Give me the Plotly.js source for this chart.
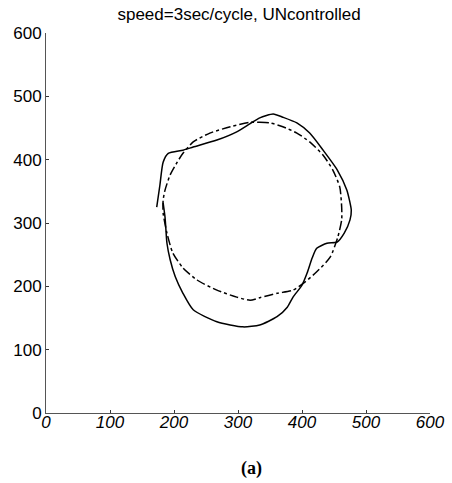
<!DOCTYPE html>
<html>
<head>
<meta charset="utf-8">
<script src="https://cdn.plot.ly/plotly-3.0.1.min.js"></script>
<style>html,body{margin:0;padding:0;background:#fff;}#chart{width:452px;height:483px;}</style>
</head>
<body>
<div id="chart"></div>
<script>
// Uncontrolled trajectory (solid)
const actualX = [173, 178, 183, 191, 214, 230, 267, 298, 319, 334, 355, 370, 392, 412, 433, 455, 470, 477, 475, 466, 455, 439, 423, 416, 408, 400, 386, 377, 361, 334, 308, 267, 230, 214, 202, 194, 189, 186, 183];
const actualY = [325, 360, 396, 410, 415, 420, 431, 444, 457, 466, 472, 467, 458, 442, 415, 384, 352, 320, 305, 284, 270, 268, 260, 245, 221, 202, 183, 167, 152, 139, 136, 144, 163, 189, 215, 242, 268, 309, 332];
// Reference path (dash-dot)
const refX = [319, 334, 350, 370, 392, 412, 433, 448, 459, 462, 462, 456, 444, 423, 405, 386, 361, 334, 319, 298, 267, 236, 214, 198, 189, 183, 183, 186, 194, 205, 214, 230, 256, 288, 319];
const refY = [459, 459, 458, 452, 442, 428, 407, 384, 357, 325, 305, 278, 246, 223, 207, 194, 189, 182, 178, 183, 194, 210, 229, 253, 284, 316, 336, 352, 376, 396, 410, 428, 442, 452, 459];
const xTicks = [0, 100, 200, 300, 400, 500, 600];
const yTicks = [0, 100, 200, 300, 400, 500, 600];
const titleText = 'speed=3sec/cycle, UNcontrolled';
const captionText = '(a)';

const traces = [
  {x: refX, y: refY, mode: 'lines', line: {color: '#000', width: 1.5, dash: 'dashdot', shape: 'spline', smoothing: 0.6}, hoverinfo: 'skip'},
  {x: actualX, y: actualY, mode: 'lines', line: {color: '#000', width: 1.5, shape: 'spline', smoothing: 0.6}, hoverinfo: 'skip'}
];

const axisFont = {family: 'Liberation Sans, Arial, sans-serif', size: 17, color: '#000'};
const layout = {
  width: 452, height: 483,
  margin: {l: 46, r: 22, t: 33, b: 70},
  paper_bgcolor: '#fff', plot_bgcolor: '#fff',
  showlegend: false,
  title: {text: titleText, x: 0.529, xref: 'container', xanchor: 'center', y: 0.971, yref: 'container', yanchor: 'middle',
          font: {family: 'Liberation Sans, Arial, sans-serif', size: 17, color: '#000'}},
  xaxis: {range: [0, 600], tickvals: xTicks, ticktext: xTicks.map(v => '<i>' + v + '</i>'), showgrid: false, zeroline: false,
          showline: true, linecolor: '#555', linewidth: 1, ticks: 'inside', ticklen: 3, tickcolor: '#333',
          tickfont: axisFont, ticklabelstandoff: -6, fixedrange: true},
  yaxis: {range: [0, 600], tickvals: yTicks, showgrid: false, zeroline: false,
          showline: true, linecolor: '#555', linewidth: 1, ticks: 'inside', ticklen: 3, tickcolor: '#333',
          tickfont: axisFont, fixedrange: true},
  annotations: [{text: '<b>' + captionText + '</b>', xref: 'paper', yref: 'paper', x: 0.534, y: -0.147, xanchor: 'center', yanchor: 'middle',
                 showarrow: false, font: {family: 'Liberation Serif, Times New Roman, serif', size: 18, color: '#000'}}]
};
Plotly.newPlot('chart', traces, layout, {staticPlot: true, displayModeBar: false});
</script>
</body>
</html>
